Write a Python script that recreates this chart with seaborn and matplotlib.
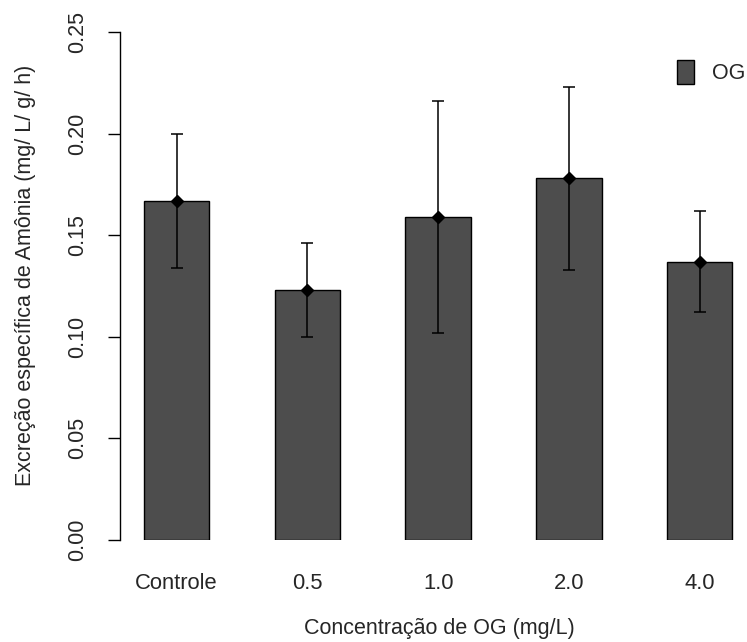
import matplotlib
matplotlib.use("Agg")
import matplotlib.pyplot as plt
from matplotlib.patches import Patch
import seaborn as sns
import numpy as np
import pandas as pd

categories = ["Controle", "0.5", "1.0", "2.0", "4.0"]
means = [0.167, 0.123, 0.159, 0.178, 0.137]
lower = [0.134, 0.100, 0.102, 0.133, 0.112]
upper = [0.200, 0.146, 0.216, 0.223, 0.162]
yticks = [0.00, 0.05, 0.10, 0.15, 0.20, 0.25]
ytick_labels = ["0.00", "0.05", "0.10", "0.15", "0.20", "0.25"]

sns.set_style("white")
plt.rcParams["font.family"] = ["Liberation Sans", "DejaVu Sans"]
FS = 15.5

W, H = 747, 642
fig = plt.figure(figsize=(W / 100, H / 100), dpi=100)
ax_left, ax_right = 120.3, 756.0
ax_bottom, ax_top = 540.0, 32.0
ax = fig.add_axes([ax_left / W, 1 - ax_bottom / H,
                   (ax_right - ax_left) / W, (ax_bottom - ax_top) / H])

df = pd.DataFrame({"cat": categories, "val": means})
sns.barplot(data=df, x="cat", y="val", color="#4d4d4d", edgecolor="black",
            linewidth=1.0, width=0.5, errorbar=None, saturation=1, ax=ax)

x = np.arange(len(categories))
m = np.array(means)
yerr = np.vstack([m - np.array(lower), np.array(upper) - m])
ax.errorbar(x, m, yerr=yerr, fmt="D", color="black", markersize=6.5,
            elinewidth=1.1, capsize=4, capthick=1.1, ecolor="black")

ax.set_xlim(-0.43, 4.43)
ax.set_ylim(0, 0.25)
ax.set_yticks(yticks)
ax.set_yticklabels(ytick_labels, rotation=90, va="center", fontsize=FS)
ax.tick_params(axis="y", length=9, width=1, color="black", pad=14, left=True)
ax.set_xticks(x)
ax.set_xticklabels(categories, fontsize=15.8)
ax.tick_params(axis="x", length=0, pad=24)
ax.set_xlabel("")
ax.set_ylabel("")

for s in ["top", "right", "bottom"]:
    ax.spines[s].set_visible(False)
ax.spines["left"].set_bounds(0, 0.25)
ax.spines["left"].set_color("black")
ax.spines["left"].set_linewidth(1.0)

fig.text(439 / W, 1 - 634 / H, "Concentração de OG (mg/L)", ha="center",
         va="baseline", fontsize=FS)
fig.text(26 / W, 1 - 275 / H, "Excreção específica de Amônia (mg/ L/ g/ h)",
         ha="center", va="center", rotation=90, fontsize=FS)

handle = Patch(facecolor="#4d4d4d", edgecolor="black", linewidth=1.0)
leg = ax.legend([handle], ["OG"], loc="upper left",
                bbox_to_anchor=(677 / W, 1 - 60 / H), bbox_transform=fig.transFigure,
                frameon=False, fontsize=FS, handlelength=17 / 21.5,
                handleheight=29 / 21.5, handletextpad=18 / 21.5,
                borderpad=0, borderaxespad=0)

fig.savefig("out.png", dpi=100)
